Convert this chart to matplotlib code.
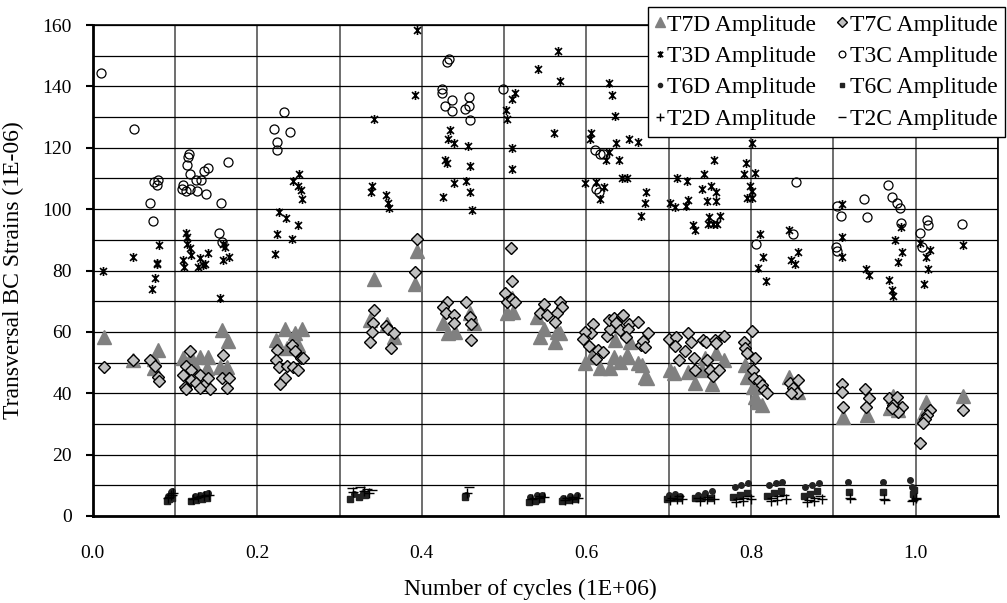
import numpy as np
import matplotlib.pyplot as plt
from matplotlib.path import Path
from matplotlib.ticker import MultipleLocator

plt.rcParams['font.family'] = ['Liberation Serif', 'DejaVu Serif']

# 1. Data (x in 1E+06 cycles, y in 1E-06 strain)
t7d_x = [0.014, 0.049, 0.079, 0.075, 0.074, 0.157, 0.164, 0.163, 0.155, 0.110, 0.120, 0.130,
         0.140, 0.126, 0.139, 0.223, 0.234, 0.246, 0.254, 0.236, 0.250, 0.342, 0.392, 0.394,
         0.337, 0.358, 0.366, 0.426, 0.432, 0.440, 0.459, 0.463, 0.503, 0.511, 0.510, 0.548,
         0.543, 0.564, 0.568, 0.562, 0.540, 0.598, 0.617, 0.629, 0.633, 0.641, 0.651, 0.663,
         0.671, 0.606, 0.635, 0.653, 0.667, 0.673, 0.649, 0.702, 0.706, 0.724, 0.732, 0.740,
         0.752, 0.758, 0.767, 0.744, 0.793, 0.795, 0.802, 0.805, 0.807, 0.813, 0.846, 0.857,
         0.912, 0.941, 0.973, 0.979, 1.013, 1.008, 1.057, 0.969]
t7d_y = [58.4, 50.8, 54.0, 51.0, 48.1, 60.6, 57.0, 48.6, 48.6, 51.4, 51.9, 51.7,
         51.7, 48.1, 48.1, 57.3, 61.1, 59.5, 61.1, 54.6, 55.7, 77.1, 75.6, 86.4,
         63.9, 62.6, 58.4, 63.0, 59.5, 60.0, 66.0, 62.8, 66.0, 66.6, 71.0, 61.1,
         58.4, 60.0, 59.5, 56.8, 64.8, 49.8, 48.1, 48.1, 51.9, 50.3, 51.9, 49.8,
         45.4, 51.9, 57.3, 56.8, 49.2, 44.9, 52.5, 47.6, 46.5, 47.0, 43.4, 47.6,
         43.0, 53.0, 50.8, 51.4, 49.2, 45.4, 42.1, 38.9, 37.2, 36.2, 45.2, 40.5,
         32.4, 32.9, 39.1, 34.5, 37.2, 32.4, 39.1, 35.1]

t7c_x = [0.014, 0.049, 0.070, 0.076, 0.079, 0.081, 0.118, 0.114, 0.120, 0.110, 0.112, 0.114,
         0.119, 0.130, 0.126, 0.135, 0.140, 0.142, 0.131, 0.158, 0.157, 0.166, 0.163, 0.224,
         0.223, 0.226, 0.234, 0.228, 0.242, 0.246, 0.253, 0.236, 0.244, 0.250, 0.255, 0.392,
         0.394, 0.342, 0.341, 0.339, 0.337, 0.357, 0.359, 0.366, 0.363, 0.430, 0.426, 0.429,
         0.439, 0.439, 0.454, 0.459, 0.460, 0.460, 0.509, 0.508, 0.501, 0.504, 0.509, 0.513,
         0.548, 0.543, 0.552, 0.568, 0.570, 0.564, 0.562, 0.608, 0.606, 0.598, 0.596, 0.603,
         0.614, 0.620, 0.612, 0.625, 0.629, 0.628, 0.633, 0.636, 0.643, 0.641, 0.652, 0.651,
         0.648, 0.663, 0.666, 0.675, 0.669, 0.671, 0.645, 0.700, 0.709, 0.707, 0.724, 0.727,
         0.720, 0.731, 0.712, 0.732, 0.742, 0.745, 0.756, 0.758, 0.767, 0.747, 0.750, 0.754,
         0.761, 0.801, 0.791, 0.793, 0.795, 0.805, 0.802, 0.803, 0.810, 0.813, 0.816, 0.819,
         0.847, 0.857, 0.851, 0.856, 0.849, 0.910, 0.910, 0.912, 0.939, 0.943, 0.940, 0.968,
         0.977, 0.973, 0.983, 0.979, 0.971, 1.017, 1.014, 1.011, 1.009, 1.005, 1.057]
t7c_y = [48.6, 50.8, 50.8, 48.9, 45.4, 44.1, 53.9, 48.9, 47.6, 45.9, 42.1, 41.5,
         44.3, 45.9, 43.2, 42.7, 44.9, 41.3, 41.6, 52.6, 44.9, 44.9, 41.8, 54.1,
         50.8, 48.6, 44.9, 43.0, 55.7, 53.9, 51.4, 48.9, 48.6, 47.6, 51.5, 79.6,
         90.2, 67.1, 62.8, 60.1, 56.8, 61.9, 61.1, 59.7, 54.6, 69.8, 68.2, 66.0,
         65.5, 62.8, 69.8, 64.9, 62.6, 57.3, 76.7, 87.2, 72.8, 69.8, 70.6, 69.8,
         69.0, 66.0, 65.5, 69.8, 68.0, 66.3, 63.3, 62.6, 59.7, 60.0, 57.6, 55.4,
         54.1, 53.5, 51.1, 58.7, 60.8, 63.9, 64.4, 63.0, 65.2, 60.6, 62.6, 60.8,
         58.2, 63.3, 55.7, 59.7, 57.1, 55.2, 65.5, 57.6, 58.4, 55.4, 59.7, 56.8,
         53.9, 51.4, 50.8, 47.6, 57.3, 56.8, 57.3, 56.5, 58.7, 50.8, 47.6, 45.6,
         47.6, 60.4, 56.8, 54.6, 53.0, 51.4, 47.6, 44.9, 44.1, 42.7, 41.1, 40.0,
         43.2, 44.3, 41.6, 40.0, 40.0, 43.0, 40.3, 35.4, 41.3, 38.3, 35.4, 38.3,
         38.9, 36.2, 35.6, 34.0, 35.1, 34.5, 32.9, 31.5, 30.4, 23.9, 34.5]

t3d_x = [0.013, 0.049, 0.081, 0.078, 0.076, 0.072, 0.078, 0.114, 0.115, 0.115, 0.118, 0.119,
         0.110, 0.130, 0.140, 0.134, 0.159, 0.161, 0.166, 0.159, 0.155, 0.111, 0.128, 0.137,
         0.251, 0.243, 0.249, 0.253, 0.254, 0.226, 0.235, 0.250, 0.224, 0.242, 0.222, 0.340,
         0.338, 0.356, 0.359, 0.360, 0.342, 0.394, 0.392, 0.434, 0.432, 0.439, 0.456, 0.428,
         0.430, 0.459, 0.439, 0.454, 0.459, 0.426, 0.461, 0.513, 0.509, 0.502, 0.503, 0.510,
         0.510, 0.565, 0.541, 0.568, 0.560, 0.628, 0.631, 0.635, 0.606, 0.604, 0.636, 0.652,
         0.663, 0.627, 0.624, 0.640, 0.598, 0.612, 0.621, 0.616, 0.643, 0.649, 0.672, 0.671,
         0.666, 0.702, 0.708, 0.721, 0.724, 0.710, 0.722, 0.743, 0.755, 0.740, 0.751, 0.757,
         0.747, 0.757, 0.729, 0.732, 0.749, 0.762, 0.748, 0.754, 0.759, 0.794, 0.791, 0.805,
         0.799, 0.801, 0.795, 0.801, 0.801, 0.811, 0.814, 0.808, 0.818, 0.846, 0.857, 0.849,
         0.853, 0.910, 0.910, 0.910, 0.940, 0.943, 0.975, 0.983, 0.979, 0.968, 0.971, 0.972,
         0.982, 1.005, 1.017, 1.013, 1.015, 1.010, 1.057]
t3d_y = [80.0, 84.3, 88.3, 82.5, 77.4, 73.9, 82.1, 92.1, 91.0, 88.8, 87.2, 85.0,
         83.4, 84.0, 85.6, 81.8, 88.8, 87.5, 84.5, 83.4, 71.1, 81.2, 81.2, 82.0,
         111.4, 109.2, 107.6, 106.2, 103.2, 99.0, 97.0, 94.8, 91.9, 90.3, 85.4, 107.5,
         105.7, 104.6, 101.9, 100.3, 129.3, 158.4, 137.2, 125.8, 123.0, 121.6, 120.6, 116.0,
         115.1, 114.1, 108.4, 109.2, 105.5, 103.8, 99.7, 137.7, 135.9, 132.3, 129.4, 120.0,
         113.0, 151.5, 145.6, 141.8, 124.7, 141.0, 137.2, 130.4, 124.7, 123.0, 121.6, 123.0,
         121.9, 118.7, 116.0, 116.0, 108.4, 108.9, 107.3, 103.2, 110.3, 110.3, 105.5, 101.9,
         97.9, 101.9, 100.8, 101.0, 103.0, 110.3, 109.3, 111.4, 116.0, 106.4, 107.5, 105.7,
         102.7, 102.7, 94.8, 93.2, 97.5, 97.7, 95.1, 95.1, 95.1, 115.1, 111.4, 111.9,
         107.5, 106.0, 103.5, 103.5, 121.4, 91.9, 84.5, 80.7, 76.7, 93.2, 86.1, 83.4,
         82.1, 101.7, 91.0, 84.3, 80.4, 78.5, 89.9, 86.1, 82.9, 76.9, 73.6, 71.7,
         94.1, 89.1, 86.7, 84.3, 80.4, 75.6, 88.3]

t3c_x = [0.010, 0.050, 0.075, 0.080, 0.078, 0.070, 0.073, 0.117, 0.116, 0.115, 0.118, 0.110,
         0.109, 0.113, 0.118, 0.127, 0.138, 0.126, 0.132, 0.135, 0.140, 0.164, 0.156, 0.153,
         0.157, 0.233, 0.220, 0.240, 0.224, 0.224, 0.4325, 0.430, 0.425, 0.424, 0.437, 0.428,
         0.437, 0.457, 0.457, 0.452, 0.458, 0.499, 0.611, 0.616, 0.620, 0.612, 0.615, 0.806,
         0.851, 0.855, 0.905, 0.909, 0.903, 0.905, 0.937, 0.941, 0.967, 0.971, 0.977, 0.981,
         0.982, 1.014, 1.015, 1.005, 1.008, 1.056]
t3c_y = [144.5, 126.0, 108.9, 109.4, 107.8, 102.0, 96.2, 118.0, 117.0, 114.5, 111.6, 107.8,
         106.7, 106.0, 106.5, 105.9, 104.9, 109.4, 109.4, 112.5, 113.5, 115.2, 102.0, 92.3,
         89.4, 131.7, 126.0, 125.0, 122.0, 119.2, 149.0, 148.0, 139.3, 137.7, 135.5, 133.5,
         131.9, 136.4, 133.5, 132.5, 129.0, 139.3, 119.2, 118.0, 117.9, 106.7, 105.6, 88.8,
         91.9, 108.7, 101.0, 97.9, 87.5, 86.4, 103.2, 97.3, 107.8, 103.8, 102.1, 100.3,
         95.4, 96.4, 94.8, 92.3, 87.8, 95.1]

t6d_x = [0.092, 0.095, 0.097, 0.124, 0.130, 0.136, 0.140, 0.318, 0.328, 0.454, 0.532, 0.540,
         0.546, 0.572, 0.580, 0.588, 0.700, 0.708, 0.714, 0.735, 0.744, 0.752, 0.780, 0.788,
         0.796, 0.822, 0.830, 0.838, 0.866, 0.874, 0.882, 0.918, 0.960, 0.993, 0.995]
t6d_y = [6.5, 7.8, 8.2, 6.5, 7.0, 7.3, 7.6, 7.2, 7.5, 6.8, 6.2, 6.8,
         7.0, 6.0, 6.6, 7.0, 6.8, 7.2, 6.5, 7.0, 7.6, 8.0, 9.5, 10.2,
         10.6, 10.0, 10.8, 11.0, 9.4, 10.0, 10.6, 11.2, 11.2, 11.7, 9.5]

t6c_x = [0.090, 0.093, 0.096, 0.120, 0.126, 0.133, 0.139, 0.313, 0.324, 0.331, 0.453, 0.530,
         0.538, 0.545, 0.570, 0.578, 0.586, 0.698, 0.705, 0.712, 0.732, 0.740, 0.750, 0.778,
         0.786, 0.795, 0.820, 0.828, 0.836, 0.864, 0.872, 0.880, 0.919, 0.960, 0.997, 0.998]
t6c_y = [5.0, 5.5, 6.0, 4.8, 5.2, 5.5, 5.8, 5.4, 6.3, 6.8, 6.3, 4.6,
         5.0, 5.6, 4.8, 5.2, 5.6, 5.6, 6.0, 5.8, 5.8, 6.2, 6.0, 6.2,
         7.0, 7.6, 6.6, 7.4, 8.0, 6.4, 7.2, 8.0, 7.7, 7.7, 7.2, 8.5]

t2d_x = [0.091, 0.095, 0.098, 0.122, 0.128, 0.135, 0.141, 0.316, 0.330, 0.336, 0.455, 0.534,
         0.542, 0.548, 0.574, 0.582, 0.590, 0.702, 0.710, 0.716, 0.738, 0.746, 0.755, 0.782,
         0.790, 0.800, 0.824, 0.832, 0.842, 0.868, 0.876, 0.886, 0.920, 0.961, 0.997, 1.000]
t2d_y = [5.8, 6.8, 7.4, 5.6, 6.2, 6.6, 7.0, 7.8, 8.0, 7.6, 7.4, 5.4,
         5.8, 6.2, 5.2, 5.6, 6.0, 5.2, 5.6, 5.4, 5.0, 5.4, 5.6, 4.6,
         5.0, 5.4, 4.8, 5.2, 5.6, 4.6, 5.0, 5.4, 5.8, 5.4, 5.2, 6.0]

t2c_x = [0.093, 0.097, 0.125, 0.132, 0.138, 0.315, 0.325, 0.333, 0.340, 0.457, 0.536, 0.544,
         0.576, 0.584, 0.704, 0.712, 0.736, 0.748, 0.784, 0.792, 0.798, 0.826, 0.834, 0.840,
         0.870, 0.878, 0.884, 0.922, 0.963, 0.996, 1.000]
t2c_y = [6.2, 7.0, 6.0, 6.4, 6.9, 9.0, 9.5, 8.8, 8.5, 9.3, 6.0, 6.5,
         5.8, 6.2, 6.0, 6.4, 5.8, 6.2, 5.6, 6.0, 6.6, 5.8, 6.4, 7.0,
         5.2, 5.8, 6.4, 5.5, 5.2, 5.0, 5.5]

# 2. Excel-like "star" marker for T3D (x with a vertical bar)
star = Path([(-1, -1), (1, 1), (-1, 1), (1, -1), (0, -1.3), (0, 1.3)],
            [Path.MOVETO, Path.LINETO] * 3)

fig = plt.figure(figsize=(10.07, 6.03), dpi=100)
ax = fig.add_axes([0.092, 0.1443, 0.899, 0.8142])

h_t7d, = ax.plot(t7d_x, t7d_y, ls='none', marker='^', ms=9.5, color='#808080',
                 mec='#808080', label='T7D Amplitude')
h_t7c, = ax.plot(t7c_x, t7c_y, ls='none', marker='D', ms=6.5, mfc='#c0c0c0', mec='k',
                 mew=1, label='T7C Amplitude')
h_t3d, = ax.plot(t3d_x, t3d_y, ls='none', marker=star, ms=6.5, mfc='none', mec='k',
                 mew=1.2, label='T3D Amplitude')
h_t3c, = ax.plot(t3c_x, t3c_y, ls='none', marker='o', ms=6.5, mfc='none', mec='k',
                 mew=0.9, label='T3C Amplitude')
h_t6d, = ax.plot(t6d_x, t6d_y, ls='none', marker='o', ms=4, color='#222222',
                 label='T6D Amplitude')
h_t6c, = ax.plot(t6c_x, t6c_y, ls='none', marker='s', ms=4, color='#222222',
                 label='T6C Amplitude')
h_t2d, = ax.plot(t2d_x, t2d_y, ls='none', marker='+', ms=7, mec='k', mew=1,
                 label='T2D Amplitude')
h_t2c, = ax.plot(t2c_x, t2c_y, ls='none', marker='_', ms=7, mec='k', mew=1,
                 label='T2C Amplitude')

# 3. Axes, grid and labels
ax.set_xlim(0, 1.1)
ax.set_ylim(0, 160)
ax.xaxis.set_minor_locator(MultipleLocator(0.1))
ax.yaxis.set_major_locator(MultipleLocator(20))
ax.yaxis.set_minor_locator(MultipleLocator(10))
ax.set_xticks([0, 0.2, 0.4, 0.6, 0.8, 1.0])
ax.set_xticklabels(['0.0', '0.2', '0.4', '0.6', '0.8', '1.0'])

ax.grid(which='both', axis='y', color='k', lw=0.9)
ax.grid(which='both', axis='x', color='#555555', lw=1.2)
ax.set_axisbelow(True)

ax.tick_params(axis='x', which='both', length=0, pad=21, labelsize=14)
ax.tick_params(axis='y', which='major', length=5, width=1.5, pad=10, labelsize=14,
               direction='out')
ax.tick_params(axis='y', which='minor', length=0)

for side in ['left', 'bottom']:
    ax.spines[side].set_linewidth(2)
for side in ['top', 'right']:
    ax.spines[side].set_linewidth(1.2)

ax.set_xlabel('Number of cycles (1E+06)', fontsize=17)
ax.xaxis.set_label_coords(0.483, -0.128)
ax.set_ylabel('Transversal BC Strains (1E-06)', fontsize=17)
ax.yaxis.set_label_coords(-0.076, 0.5)

# legend is filled row by row in the original, matplotlib fills columns
handles = [h_t7d, h_t3d, h_t6d, h_t2d, h_t7c, h_t3c, h_t6c, h_t2c]
leg = fig.legend(handles=handles, loc='upper left',
                 bbox_to_anchor=(648 / 1007, 1 - 7 / 603), ncol=2, fontsize=17,
                 frameon=True, fancybox=False, edgecolor='k', framealpha=1,
                 markerscale=0.75, handlelength=0.4, handletextpad=0.12,
                 columnspacing=0.9, labelspacing=0.42, borderpad=0.3,
                 borderaxespad=0)
leg.get_frame().set_linewidth(1)

plt.savefig('out.png', dpi=100)
plt.close()
